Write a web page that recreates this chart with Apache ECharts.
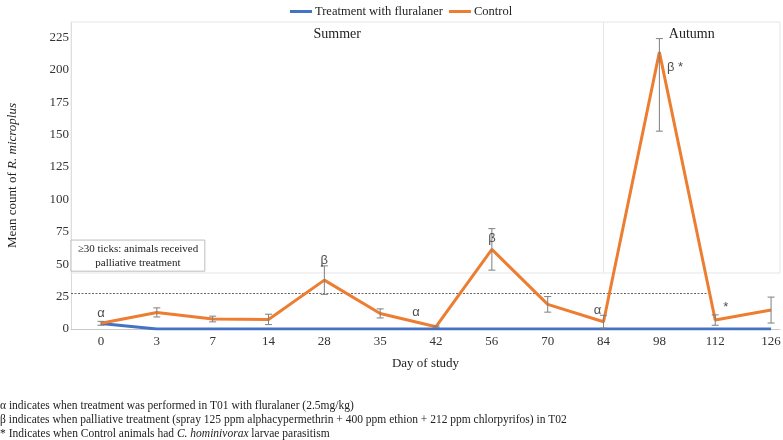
<!DOCTYPE html>
<html>
<head>
<meta charset="utf-8">
<script src="https://cdn.jsdelivr.net/npm/echarts@6/dist/echarts.min.js"></script>
<style>html,body{margin:0;padding:0;background:#fff}#c{width:783px;height:440px}</style>
</head>
<body>
<div id="c"></div>
<script>
const categories = ['0','3','7','14','28','35','42','56','70','84','98','112','126'];
const fluralaner = [4.3,0,0,0,0,0,0,0,0,0,0,0,0];
const control = [4.4,12.8,7.7,7.4,37.7,12,1.8,61.4,19,5.6,213.6,6.9,14.6];
const controlErrLow = [1.5,3.5,2.2,4,11,3.5,0.5,16,6,5,61,4,10];
const controlErrHigh = [1.5,3.5,2.2,4,11,3.5,0.5,16,6,5,10.4,4,10];
const yTicks = [0,25,50,75,100,125,150,175,200,225];
const threshold = 27.4;
const annotations = [
  [0, 12.3, 'α'], [4, 53, 'β'], [5.64, 13, 'α'], [7, 70, 'β'],
  [8.89, 14.6, 'α'], [10.28, 202, 'β *'], [11.19, 17, '*']
];
const footnotes = [
  [{t:'α indicates when treatment was performed in T01 with fluralaner (2.5mg/kg)'}],
  [{t:'β indicates when palliative treatment (spray 125 ppm alphacypermethrin + 400 ppm ethion + 212 ppm chlorpyrifos) in T02'}],
  [{t:'* Indicates when Control animals had '},{t:'C. hominivorax',i:true},{t:' larvae parasitism'}]
];

const X_MIN = -0.537, X_MAX = 12.16, Y_MAX = 236.8;
const serif = '"Liberation Serif","Times New Roman",serif';
const sans = '"Liberation Sans",Arial,sans-serif';
const idx = categories.map((c,i)=>i);

const chart = echarts.init(document.getElementById('c'));
const graphics = footnotes.map((parts, k) => ({
  type: 'text', left: 0, top: 400 + k*14,
  style: {
    text: parts.map(p => p.i ? '{i|' + p.t + '}' : '{n|' + p.t + '}').join(''),
    rich: {
      n: {fontFamily: serif, fontSize: 11.5, fill: '#222'},
      i: {fontFamily: serif, fontSize: 11.5, fontStyle: 'italic', fill: '#222'}
    }
  }
}));

chart.setOption({
  animation: false,
  legend: {
    top: 0, left: 285, itemGap: 6, itemWidth: 22, itemHeight: 3,
    icon: 'rect',
    textStyle: {fontFamily: serif, fontSize: 12.5, color: '#222', padding: [0, 0, 0, -2]},
    data: ['Treatment with fluralaner', 'Control']
  },
  grid: {left: 71, right: 3, top: 22, bottom: 111, outerBoundsMode: 'none', containLabel: false},
  xAxis: {
    type: 'value', min: X_MIN, max: X_MAX,
    name: 'Day of study', nameLocation: 'middle', nameGap: 28,
    nameTextStyle: {fontFamily: serif, fontSize: 13, color: '#222'},
    axisLine: {show: true, onZero: false, lineStyle: {color: '#c8c8c8', width: 1}},
    axisTick: {show: false},
    splitLine: {show: false},
    axisLabel: {
      customValues: idx, margin: 6,
      fontFamily: serif, fontSize: 13, color: '#333',
      formatter: v => categories[Math.round(v)] ?? ''
    }
  },
  yAxis: {
    type: 'value', min: 0, max: Y_MAX,
    name: '{n|Mean count of }{i|R. microplus}', nameLocation: 'middle', nameGap: 52, nameRotate: 90,
    nameTextStyle: {
      rich: {
        n: {fontFamily: serif, fontSize: 13, color: '#222'},
        i: {fontFamily: serif, fontSize: 13, color: '#222', fontStyle: 'italic'}
      }
    },
    axisLine: {show: true, onZero: false, lineStyle: {color: '#d9d9d9', width: 1}},
    axisTick: {show: false},
    splitLine: {show: false},
    axisLabel: {customValues: yTicks, margin: 2, fontFamily: serif, fontSize: 13, color: '#333'}
  },
  graphic: graphics,
  series: [
    {
      name: 'season', type: 'scatter', data: [], silent: true,
      markArea: {
        silent: true,
        itemStyle: {color: 'rgba(0,0,0,0)', borderColor: '#e6e6e6', borderWidth: 1},
        label: {position: 'insideTop', distance: 6, fontFamily: serif, fontSize: 14, color: '#222'},
        data: [
          [{name: 'Summer', coord: [X_MIN, 43.2]}, {coord: [9, Y_MAX]}],
          [{name: 'Autumn', coord: [9, 43.2]}, {coord: [X_MAX, Y_MAX]}]
        ]
      }
    },
    {
      name: 'box', type: 'scatter', data: [], silent: true, z: 3,
      markArea: {
        silent: true,
        itemStyle: {color: '#fff', borderColor: '#bdbdbd', borderWidth: 1},
        label: {position: 'inside', fontFamily: serif, fontSize: 11, lineHeight: 14, color: '#222', align: 'center'},
        data: [
          [{name: '≥30 ticks: animals received\npalliative treatment', coord: [X_MIN, 44.6]}, {coord: [1.86, 68.6]}]
        ]
      },
      markLine: {
        silent: true, symbol: 'none', label: {show: false},
        lineStyle: {color: '#666', type: [2, 1.5], width: 1},
        data: [[{coord: [X_MIN, threshold]}, {coord: [10.87, threshold]}]]
      }
    },
    {
      name: 'Treatment with fluralaner', type: 'line', z: 4,
      data: fluralaner.map((v,i)=>[i,v]),
      showSymbol: false, symbol: 'none',
      color: '#4472C4', lineStyle: {width: 3, color: '#4472C4'}
    },
    {
      name: 'Control', type: 'line', z: 5,
      data: control.map((v,i)=>[i,v]),
      showSymbol: false, symbol: 'none',
      color: '#ED7D31', lineStyle: {width: 3, color: '#ED7D31'}
    },
    {
      name: 'err', type: 'custom', z: 6, silent: true, clip: true,
      data: control.map((v,i)=>[i, v - controlErrLow[i], v + controlErrHigh[i]]),
      renderItem: function(params, api) {
        const i = api.value(0);
        const top = api.coord([i, api.value(2)]);
        const bot = api.coord([i, api.value(1)]);
        const w = 3.5;
        const st = {stroke: '#7f7f7f', lineWidth: 1};
        return {type: 'group', children: [
          {type: 'line', shape: {x1: top[0], y1: top[1], x2: bot[0], y2: bot[1]}, style: st},
          {type: 'line', shape: {x1: top[0]-w, y1: top[1], x2: top[0]+w, y2: top[1]}, style: st},
          {type: 'line', shape: {x1: bot[0]-w, y1: bot[1], x2: bot[0]+w, y2: bot[1]}, style: st}
        ]};
      }
    },
    {
      name: 'annot', type: 'scatter', z: 7, silent: true,
      symbolSize: 0,
      data: annotations.map(a => ({value: [a[0], a[1]], name: a[2]})),
      label: {show: true, position: 'inside', formatter: p => p.name,
        fontFamily: sans, fontSize: 13, color: '#222'}
    }
  ]
});
</script>
</body>
</html>
